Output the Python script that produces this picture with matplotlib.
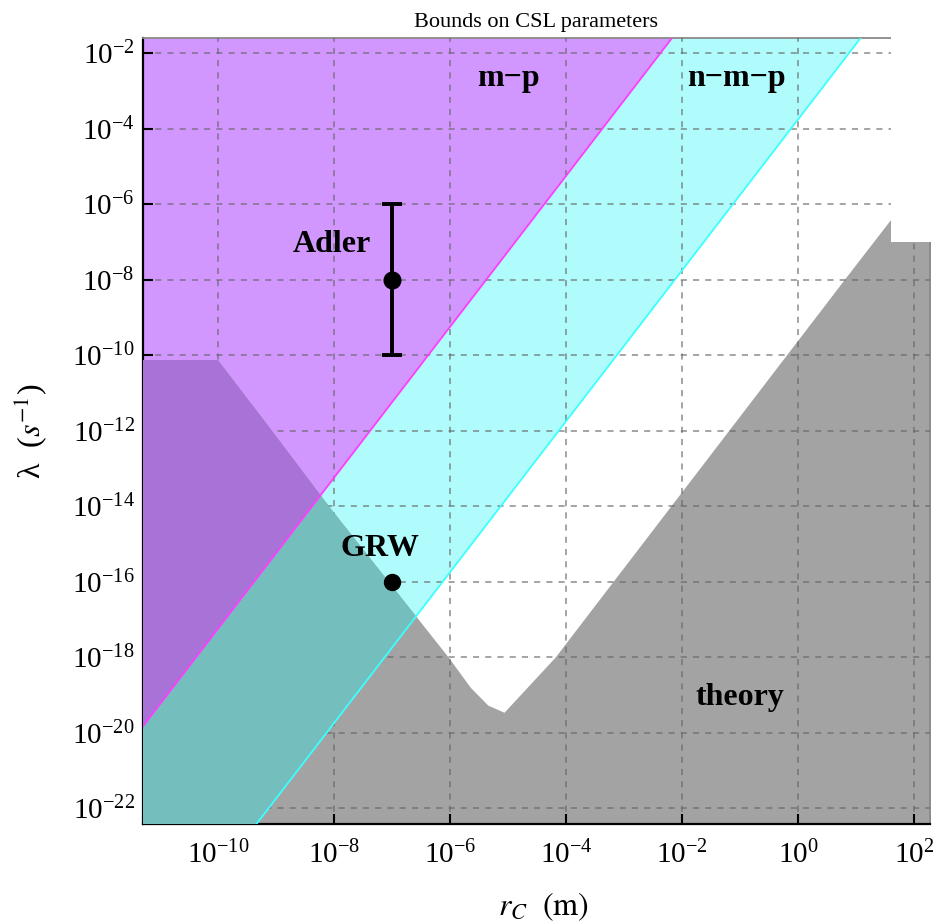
import matplotlib
matplotlib.use("Agg")
import matplotlib.pyplot as plt
from matplotlib.patches import Rectangle
from matplotlib.ticker import FixedLocator, LogFormatterMathtext, NullLocator
import numpy as np

plt.rcParams["font.family"] = ["Liberation Serif", "DejaVu Serif"]
plt.rcParams["mathtext.fontset"] = "stix"

# exclusion bounds, lambda vs r_C (log10 values)
mp_log_rc = [-12.0, 1.0]          # m-p bound: slope 2
mp_log_lam = [-21.25, 4.75]
nmp_log_rc = [-12.0, 3.0]         # n-m-p bound
nmp_log_lam = [-27.75, 2.25]
theory_log_rc = [-12.0, -10.0, -9.07, -8.09, -6.03, -5.65, -5.35, -5.07, -4.19, 0.79, 3.0]
theory_log_lam = [-10.13, -10.13, -12.0, -14.0, -18.0, -18.8, -19.27, -19.46, -18.0, -8.0, -3.6]

# proposed parameter values
adler_rc, adler_lam = 1e-7, 1e-8
adler_lo, adler_hi = 1e-10, 1e-6
grw_rc, grw_lam = 1e-7, 1e-16

xlim_log = (-11.29, 2.27)
ylim_log = (-22.42, -1.6)
xticks_exp = list(range(-10, 3, 2))
yticks_exp = list(range(-22, -1, 2))

c_purple = "#d197fe"
c_cyan = "#b0fcfc"
c_gray = "#a3a3a3"
c_dpurple = "#a872d6"
c_teal = "#74bebe"

fig = plt.figure(figsize=(9.34, 9.23), dpi=100)
ax = fig.add_axes([143 / 934, 1 - 824 / 923, 787 / 934, 786 / 923])
ax.set_xscale("log")
ax.set_yscale("log")

lx = np.linspace(xlim_log[0] - 0.2, xlim_log[1] + 0.2, 3000)
m = np.interp(lx, mp_log_rc, mp_log_lam)
c = np.interp(lx, nmp_log_rc, nmp_log_lam)
g = np.interp(lx, theory_log_rc, theory_log_lam)
lo, hi = ylim_log[0] - 1, ylim_log[1] + 1
r = 10 ** lx

ax.fill_between(r, 10 ** m, 10 ** hi, color=c_purple, lw=0, zorder=1)
ax.fill_between(r, 10 ** c, 10 ** m, color=c_cyan, lw=0, zorder=1)
ax.fill_between(r, 10 ** lo, 10 ** g, color=c_gray, lw=0, zorder=2)
ax.fill_between(r, 10 ** m, 10 ** np.maximum(g, m), color=c_dpurple, lw=0, zorder=3)
top_teal = np.minimum(g, m)
ax.fill_between(r, 10 ** c, 10 ** np.maximum(top_teal, c), color=c_teal, lw=0, zorder=3)

ax.plot(r, 10 ** m, color="#ff3cff", lw=1.3, zorder=4)
ax.plot(r, 10 ** c, color="#3cffff", lw=1.3, zorder=4)

ax.set_xlim(10 ** xlim_log[0], 10 ** xlim_log[1])
ax.set_ylim(10 ** ylim_log[0], 10 ** ylim_log[1])

ax.xaxis.set_major_locator(FixedLocator([10.0 ** k for k in xticks_exp]))
ax.yaxis.set_major_locator(FixedLocator([10.0 ** k for k in yticks_exp]))
ax.xaxis.set_minor_locator(NullLocator())
ax.yaxis.set_minor_locator(NullLocator())
ax.xaxis.set_major_formatter(LogFormatterMathtext())
ax.yaxis.set_major_formatter(LogFormatterMathtext())
ax.tick_params(direction="in", length=7, width=1.5, labelsize=21, pad=6,
               top=False, right=False)
ax.tick_params(axis="x", pad=12)

ax.grid(True, which="major", color="#666666", ls=(0, (4, 4)), lw=1.1, alpha=0.75, zorder=5)
ax.set_axisbelow(False)

for s in ("left", "bottom"):
    ax.spines[s].set_color("black")
    ax.spines[s].set_linewidth(1.6)
for s in ("top", "right"):
    ax.spines[s].set_color("#8a8a8a")
    ax.spines[s].set_linewidth(1.3)

# Adler and GRW points
ax.errorbar([adler_rc], [adler_lam],
            yerr=[[adler_lam - adler_lo], [adler_hi - adler_lam]],
            fmt="o", color="black", ms=12, lw=2.8, capsize=7, capthick=2.8, zorder=6)
ax.plot([grw_rc], [grw_lam], "o", color="black", ms=11.5, zorder=6)

bold = dict(fontsize=23, fontweight="bold", ha="center", va="center", zorder=7)
ax.text(10 ** -8.03, 10 ** -7.07, "Adler", **bold)
ax.text(10 ** -7.21, 10 ** -15.13, "GRW", **bold)
ax.text(10 ** -5.0, 10 ** -2.66, "m\u2212p", **bold)
ax.text(10 ** -1.07, 10 ** -2.66, "n\u2212m\u2212p", **bold)
ax.text(10 ** -1.0, 10 ** -19.08, "theory", **bold)

ax.set_title("Bounds on CSL parameters", fontsize=16, pad=8)
ax.set_xlabel(r"$r_C\ \ (\mathrm{m})$", fontsize=23)
ax.set_ylabel("\u03bb  ($s^{-1}$)", fontsize=23)
ax.xaxis.set_label_coords(0.5085, -0.085)
ax.yaxis.set_label_coords(-0.12, 0.5)

# blank corner
fig.patches.append(Rectangle((891 / 934, 1 - 242 / 923), 43 / 934, 242 / 923,
                             transform=fig.transFigure, facecolor="white",
                             edgecolor="none", zorder=10))

fig.savefig("out.png", dpi=100)
